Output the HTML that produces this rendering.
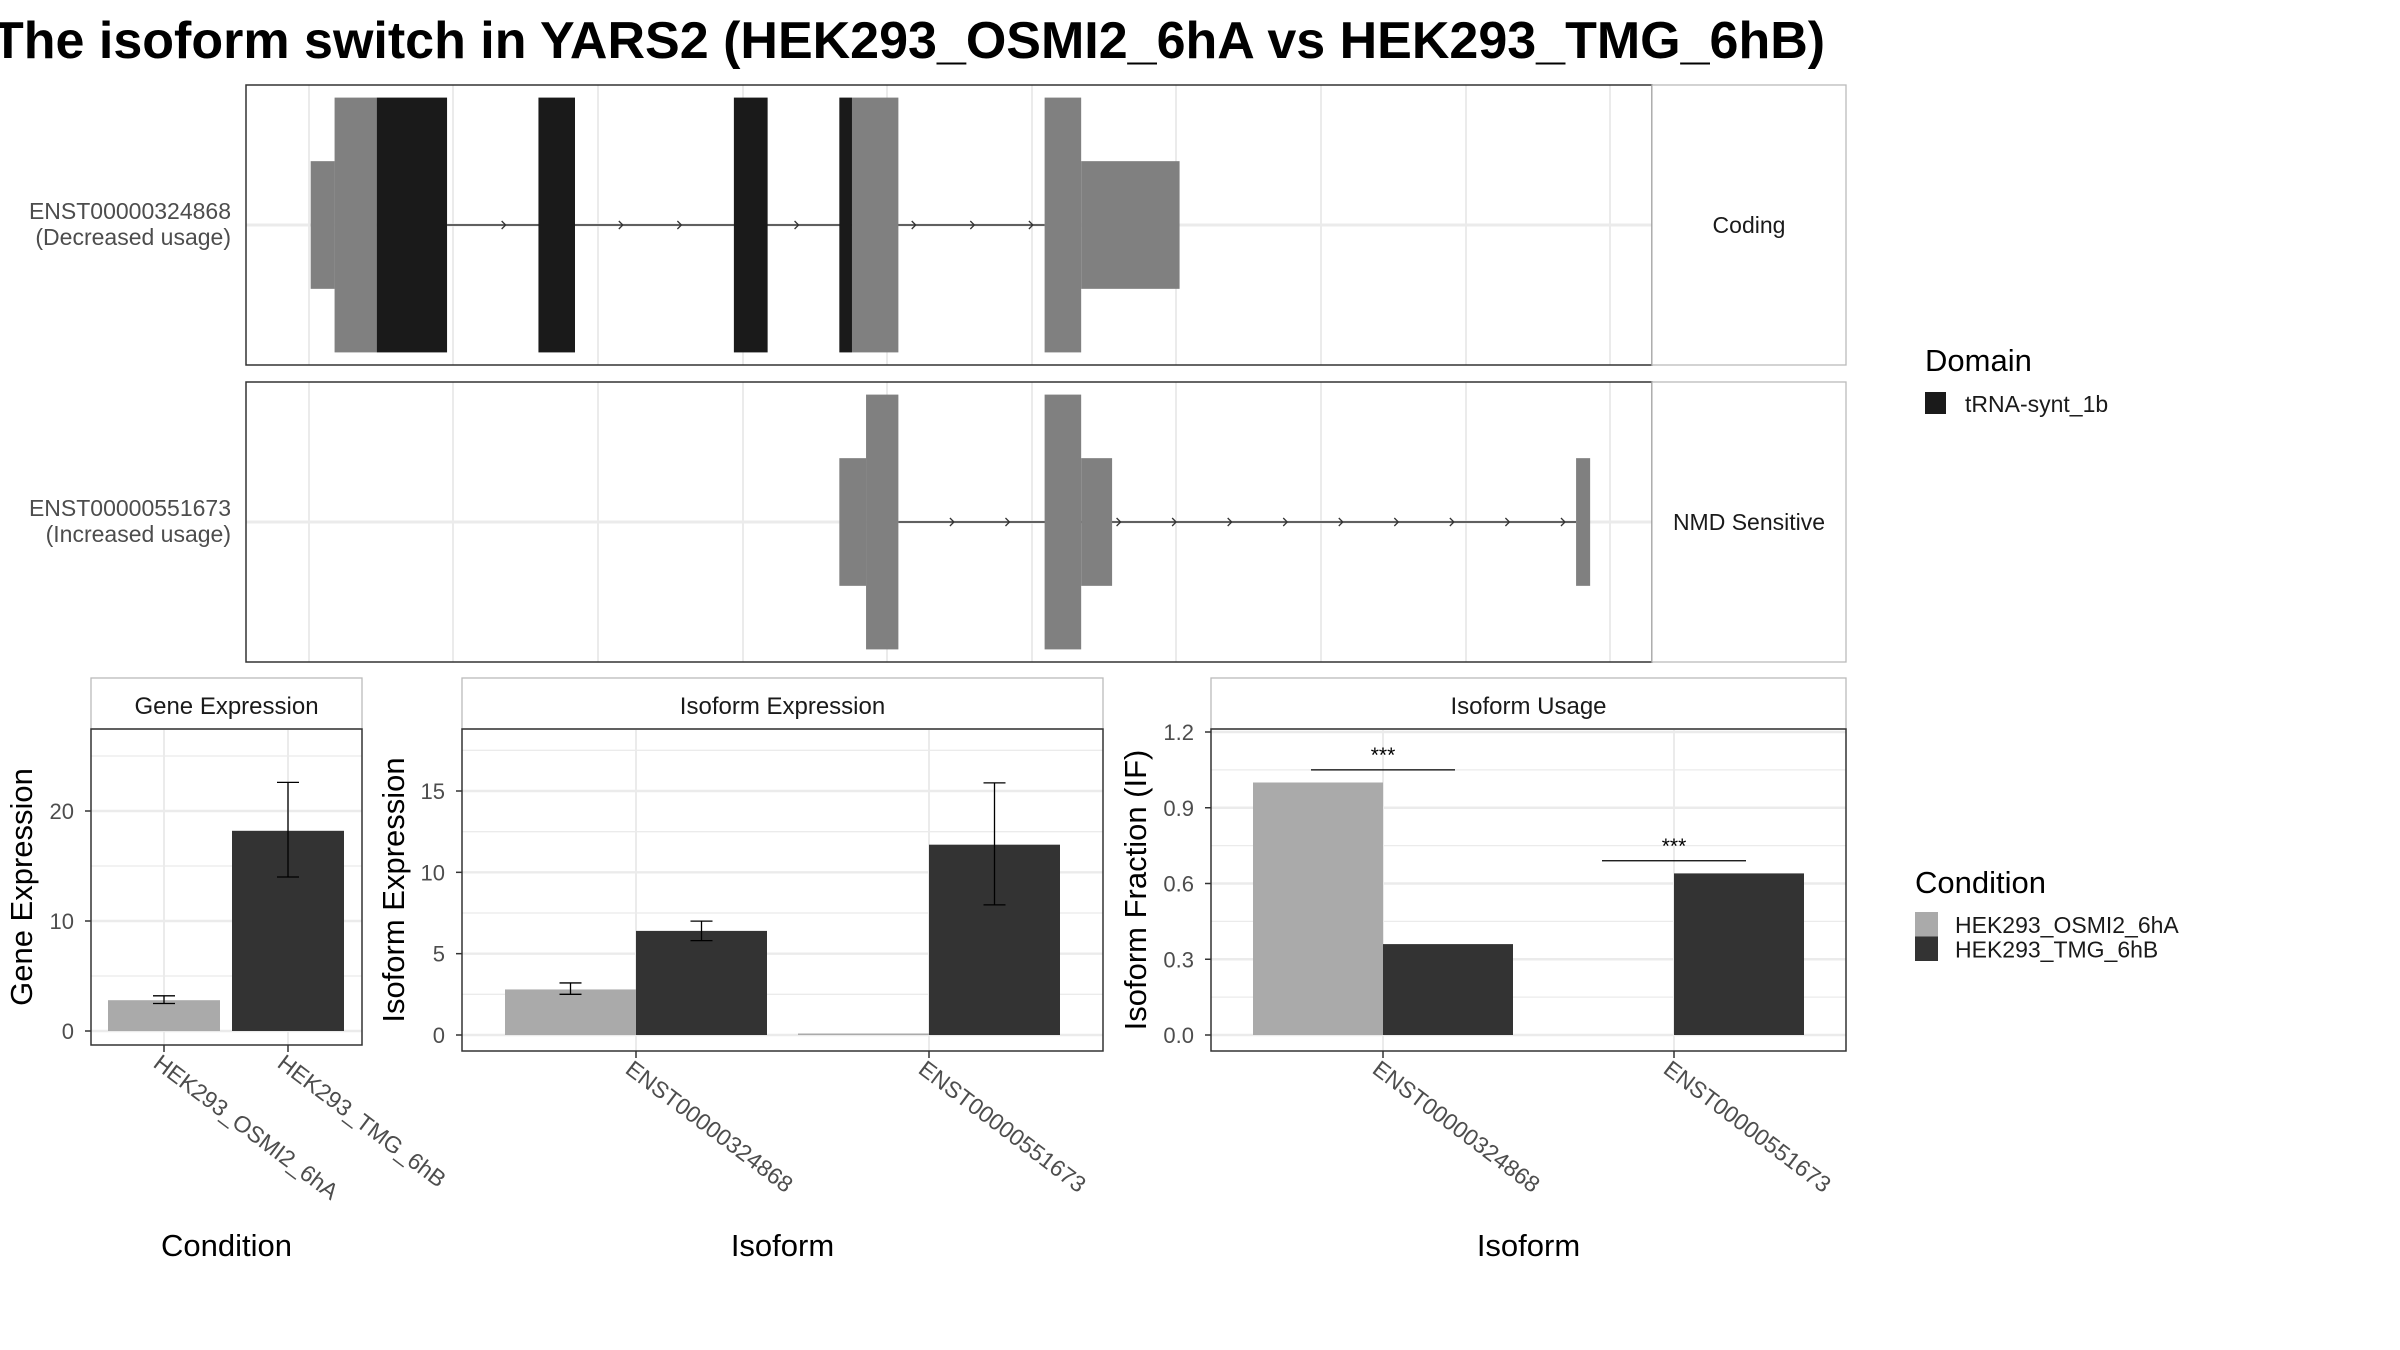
<!DOCTYPE html>
<html><head><meta charset="utf-8"><style>
html,body{margin:0;padding:0;background:#fff;}
svg{display:block;font-family:"Liberation Sans",sans-serif;}
</style></head><body>
<svg id="svg" width="2400" height="1350" viewBox="0 0 2400 1350" xmlns="http://www.w3.org/2000/svg">
<rect x="0" y="0" width="2400" height="1350" fill="#fff"/>
<text x="-8" y="58" font-size="52" font-weight="bold" fill="#000">The isoform switch in YARS2 (HEK293_OSMI2_6hA vs HEK293_TMG_6hB)</text>
<g id="g"></g>
</svg>
<script>
// ---- data ----
const condNames = ["HEK293_OSMI2_6hA", "HEK293_TMG_6hB"];
const condColors = ["#aaaaaa", "#333333"];
const isoforms = ["ENST00000324868", "ENST00000551673"];
const geneExpr = [2.8, 18.2];
const geneErrLo = [2.5, 14.0];
const geneErrHi = [3.2, 22.6];
const geneTicks = [0, 10, 20];
const isoExprA = [2.8, 0];
const isoExprB = [6.4, 11.7];
const isoErrLoA = [2.5, null];
const isoErrHiA = [3.2, null];
const isoErrLoB = [5.8, 8.0];
const isoErrHiB = [7.0, 15.5];
const isoExprTicks = [0, 5, 10, 15];
const ifA = [1.0, null];
const ifB = [0.36, 0.64];
const ifTicks = [0.0, 0.3, 0.6, 0.9, 1.2];
const sigY = [1.05, 0.69];
const sigLabel = ["***", "***"];
// transcript structure in genomic units (0..1 relative positions)
const tx1Exons = [ // [start,end,type]  type: u=utr(half), c=cds(full), d=domain
  [0.046,0.063,"u"],[0.063,0.093,"c"],[0.093,0.143,"d"],[0.208,0.234,"d"],
  [0.347,0.371,"d"],[0.422,0.431,"d"],[0.431,0.464,"c"],[0.568,0.594,"c"],[0.594,0.664,"u"]];
const tx2Exons = [[0.422,0.441,"u"],[0.441,0.464,"c"],[0.568,0.594,"c"],[0.594,0.616,"u"],[0.946,0.956,"u"]];
const tx1Intron = [0.143, 0.568];
const tx2Intron = [0.464, 0.946];

const NS="http://www.w3.org/2000/svg";
const G=document.getElementById('g');
function mk(tag,attrs,parent){const e=document.createElementNS(NS,tag);for(const k in attrs)e.setAttribute(k,attrs[k]);(parent||G).appendChild(e);return e;}
function txt(s,attrs,parent){const e=mk('text',attrs,parent);e.textContent=s;return e;}

// ---- transcript panels ----
const TX0=246, TX1=1652;
const gx=v=>TX0+v*(TX1-TX0);
function txPanel(y0,y1,exons,intron,label1,label2,strip,name){
  const grp=mk('g',{});
  
  
  mk('rect',{x:TX0,y:y0,width:TX1-TX0,height:y1-y0,fill:'#fff'},grp);
  const gl=[309,453,598,743,887,1032,1176,1321,1466,1610];
  gl.forEach(x=>mk('line',{x1:x,x2:x,y1:y0,y2:y1,stroke:'#ebebeb','stroke-width':2},grp));
  const cy=(y0+y1)/2;
  mk('line',{x1:TX0,x2:TX1,y1:cy,y2:cy,stroke:'#ebebeb','stroke-width':3},grp);
  const ix0=gx(intron[0]), ix1=gx(intron[1]);
  const il=mk('line',{x1:ix0,x2:ix1,y1:cy,y2:cy,stroke:'#333','stroke-width':1.5},grp);
  
  
  const n=Math.round((ix1-ix0)/58);
  for(let i=1;i<=n;i++){const ax=ix0+i*(ix1-ix0)/(n+0.2);
    mk('path',{d:`M${ax-4},${cy-4} L${ax},${cy} L${ax-4},${cy+4}`,fill:'none',stroke:'#333','stroke-width':1.3},grp);}
  const full=(y1-y0)*0.455, half=(y1-y0)*0.228;
  exons.forEach(e=>{
    const h=e[2]==="u"?half:full;
    const r=mk('rect',{x:gx(e[0]),y:cy-h,width:gx(e[1])-gx(e[0]),height:2*h,fill:e[2]==="d"?'#1a1a1a':'#808080'},grp);
    
    
  });
  mk('rect',{x:TX0,y:y0,width:TX1-TX0,height:y1-y0,fill:'none',stroke:'#333','stroke-width':1.5},grp);
  mk('rect',{x:TX1,y:y0,width:1846-TX1,height:y1-y0,fill:'#fff',stroke:'#bbb','stroke-width':1.3},grp);
  const st=txt(strip,{x:1749,y:cy+8,'font-size':23,'text-anchor':'middle',fill:'#1a1a1a'},grp);
  
  
  const l1=txt(label1,{x:231,y:cy-6,'font-size':23,'text-anchor':'end',fill:'#4d4d4d'},grp);
  
  
  const l2=txt(label2,{x:231,y:cy+20,'font-size':23,'text-anchor':'end',fill:'#4d4d4d'},grp);
  
  
}
txPanel(85,365,tx1Exons,tx1Intron,isoforms[0],"(Decreased usage)","Coding","transcript-panel-1");
txPanel(382,662,tx2Exons,tx2Intron,isoforms[1],"(Increased usage)","NMD Sensitive","transcript-panel-2");

// ---- legends ----
const lg=mk('g',{});


txt("Domain",{x:1925,y:371,'font-size':31,fill:'#000'},lg);
mk('rect',{x:1925,y:392,width:21,height:22,fill:'#1a1a1a'},lg);
txt("tRNA-synt_1b",{x:1965,y:412,'font-size':23,fill:'#1a1a1a'},lg);
const cl=mk('g',{});


txt("Condition",{x:1915,y:893,'font-size':31,fill:'#000'},cl);
condNames.forEach((c,i)=>{
  const r=mk('rect',{x:1915,y:912+i*24.5,width:23,height:24.5,fill:condColors[i]},cl);
  
  
  const t=txt(c,{x:1955,y:933+i*24.5,'font-size':23,fill:'#1a1a1a'},cl);
  
  
});

// ---- bar panels ----
function barPanel(o){
  const grp=mk('g',{});
  
  
  const {x0,x1,y0,y1}=o;
  const ys=v=>o.py0+(v-o.v0)*(o.py1-o.py0)/(o.v1-o.v0);
  mk('rect',{x:x0,y:678,width:x1-x0,height:y0-678,fill:'#fff',stroke:'#bbb','stroke-width':1.3},grp);
  const st=txt(o.strip,{x:(x0+x1)/2,y:714,'font-size':24,'text-anchor':'middle',fill:'#1a1a1a'},grp);
  
  
  // grid
  for(let i=0;i<o.ticks.length;i++){
    const t=o.ticks[i];
    mk('line',{x1:x0,x2:x1,y1:ys(t),y2:ys(t),stroke:'#ebebeb','stroke-width':2.4},grp);
    if(i<o.ticks.length-1||o.extraMinor){const m=t+(o.ticks[1]-o.ticks[0])/2; if(ys(m)>y0) mk('line',{x1:x0,x2:x1,y1:ys(m),y2:ys(m),stroke:'#ebebeb','stroke-width':1.3},grp);}
    const tl=txt(o.tickFmt(t),{x:o.labX,y:ys(t)+8,'font-size':22,'text-anchor':'end',fill:'#4d4d4d'},grp);
    
    
    mk('line',{x1:x0-6,x2:x0,y1:ys(t),y2:ys(t),stroke:'#333','stroke-width':1.5},grp);
  }
  o.centers.forEach(c=>mk('line',{x1:c,x2:c,y1:y0,y2:y1,stroke:'#ebebeb','stroke-width':2},grp));
  // bars
  o.series.forEach((s,si)=>{
    s.vals.forEach((v,i)=>{
      if(v===null) return;
      const bx=o.centers[i]+s.off, y=ys(v), yb=ys(0);
      const r=mk('rect',{x:bx,y:Math.min(y,yb-1.5),width:o.bw,height:Math.max(yb-y,1.5),fill:s.color},grp);
      
      
      if(s.lo&&s.lo[i]!=null){
        const ex=bx+o.bw/2, ylo=ys(s.lo[i]), yhi=ys(s.hi[i]);
        const eb=mk('path',{d:`M${ex},${ylo}V${yhi}M${ex-11},${ylo}H${ex+11}M${ex-11},${yhi}H${ex+11}`,stroke:'#000','stroke-width':1.3,fill:'none'},grp);
        
        
      }
    });
  });
  if(o.sig){o.sig.forEach((sv,i)=>{
    const c=o.centers[i], y=ys(sv);
    const sl=mk('line',{x1:c-72,x2:c+72,y1:y,y2:y,stroke:'#000','stroke-width':1.3},grp);
    
    
    const stx=txt(sigLabel[i],{x:c,y:y-8,'font-size':21,'text-anchor':'middle',fill:'#000'},grp);
    
    
  });}
  mk('rect',{x:x0,y:y0,width:x1-x0,height:y1-y0,fill:'none',stroke:'#333','stroke-width':1.5},grp);
  o.centers.forEach((c,i)=>{
    mk('line',{x1:c,x2:c,y1:y1,y2:y1+7,stroke:'#333','stroke-width':1.5},grp);
    const t=txt(o.xlabels[i],{x:0,y:0,'font-size':23,fill:'#4d4d4d',transform:`translate(${c-12},${y1+21}) rotate(37)`},grp);
    
    
  });
  const xt=txt(o.xtitle,{x:(x0+x1)/2,y:1256,'font-size':31,'text-anchor':'middle',fill:'#000'},grp);
  
  
  const yt=txt(o.ytitle,{x:0,y:0,'font-size':31,'text-anchor':'middle',fill:'#000',transform:`translate(${o.ytX},${(y0+y1)/2}) rotate(-90)`},grp);
  
  
}
barPanel({name:'gene-expression-panel',strip:'Gene Expression',x0:91,x1:362,y0:729,y1:1045,
  py0:1031,py1:811,v0:0,v1:20,ticks:geneTicks,extraMinor:true,tickFmt:t=>String(t),labX:74,
  centers:[164,288],bw:112,xlabels:condNames,
  series:[{vals:[geneExpr[0],null],off:-56,color:condColors[0],lo:[geneErrLo[0],null],hi:[geneErrHi[0],null]},
          {vals:[null,geneExpr[1]],off:-56,color:condColors[1],lo:[null,geneErrLo[1]],hi:[null,geneErrHi[1]]}],
  xtitle:'Condition',ytitle:'Gene Expression',ytX:32});
barPanel({name:'isoform-expression-panel',strip:'Isoform Expression',x0:462,x1:1103,y0:729,y1:1051,
  py0:1035,py1:791,v0:0,v1:15,ticks:isoExprTicks,extraMinor:true,tickFmt:t=>String(t),labX:445,
  centers:[636,929],bw:131,xlabels:isoforms,
  series:[{vals:isoExprA,off:-131,color:condColors[0],lo:isoErrLoA,hi:isoErrHiA},
          {vals:isoExprB,off:0,color:condColors[1],lo:isoErrLoB,hi:isoErrHiB}],
  xtitle:'Isoform',ytitle:'Isoform Expression',ytX:404});
barPanel({name:'isoform-usage-panel',strip:'Isoform Usage',x0:1211,x1:1846,y0:729,y1:1051,
  py0:1035,py1:732,v0:0,v1:1.2,ticks:ifTicks,extraMinor:false,tickFmt:t=>t.toFixed(1),labX:1194,
  centers:[1383,1674],bw:130,xlabels:isoforms,
  series:[{vals:ifA,off:-130,color:condColors[0]},{vals:ifB,off:0,color:condColors[1]}],
  sig:sigY,xtitle:'Isoform',ytitle:'Isoform Fraction (IF)',ytX:1146});
</script>
</body></html>
